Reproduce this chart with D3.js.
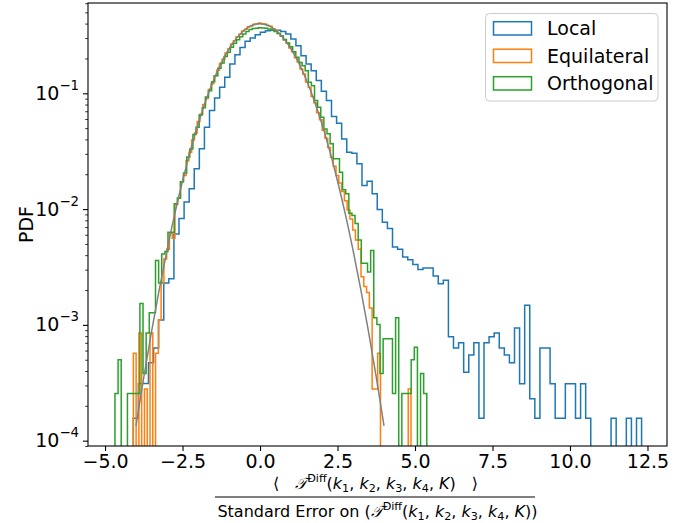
<!DOCTYPE html>
<html><head><meta charset="utf-8">
<script src="https://cdn.jsdelivr.net/npm/d3@7"></script>
<style>
body{margin:0;background:#fff}
text{font-family:"DejaVu Sans",sans-serif}
</style>
</head><body>
<svg id="chart" width="697" height="523"></svg>
<script>
// ---- data ----
const seriesNames = ["Local", "Equilateral", "Orthogonal"];
const seriesColors = ["#1f77b4", "#ff7f0e", "#2ca02c"];

const localStart = -4.09, localWidth = 0.164;
const localValues = [
 0.000156,0.000312,0.000312,0.00047,0.00063,0.0011,0.0023,0.0025,0.0061,0.0083,
 0.0115,0.015,0.0223,0.0332,0.0509,0.071,0.0912,0.113,0.1375,0.179,
 0.215,0.249,0.282,0.30,0.321,0.336,0.347,0.352,0.35,0.342,
 0.325,0.294,0.258,0.211,0.179,0.157,0.129,0.104,0.0865,0.063,
 0.0551,0.0404,0.031,0.0304,0.0246,0.016,0.0174,0.0136,0.0099,0.0077,
 0.0068,0.0047,0.0045,0.00385,0.00366,0.00333,0.00301,0.0031,0.0031,0.00264,
 0.00227,0.00243,0.00079,0.00063,0.0007,0.00039,0.00055,0.0007,0.000156,0.0007,
 0.00079,0.00085,0.00063,0.00055,0.00047,0.00094,0.00031,0.00148,0.00023,0.000156,
 0.00063,0.00063,0.00031,0.000156,0.000156,0.00031,0.00031,0.000156,0.00031,0.000156,
 0,0,0,0,0.000156,0,0,0.000156,0,0.000156
];

const equiStart = -4.087, equiWidth = 0.08958;
const equiValues = [
 0.00057,0,0.00085,0,0.00028,0,0.00085,0,0.00057,0.0011,
 0.0023,0.0037,0.0045,0.0062,0.0056,0.011,0.0125,0.0172,0.0195,0.0262,
 0.031,0.0395,0.0455,0.057,0.066,0.080,0.090,0.108,0.121,0.142,
 0.158,0.181,0.198,0.223,0.241,0.266,0.284,0.308,0.323,0.345,
 0.357,0.375,0.382,0.394,0.399,0.404,0.398,0.396,0.386,0.379,
 0.361,0.349,0.328,0.313,0.289,0.272,0.246,0.228,0.203,0.186,
 0.162,0.147,0.125,0.112,0.094,0.083,0.068,0.059,0.048,0.041,
 0.034,0.028,0.0235,0.0195,0.0168,0.0142,0.0118,0.0098,0.0082,0.0066,
 0.0054,0.0045,0.0026,0.00215,0.0019,0.0014,0.00028,0.00028,0.00057,0,
 0,0,0,0,0,0,0,0,0,0.00028
];

const orthoStart = -4.68, orthoWidth = 0.1006;
const orthoValues = [
 0.000256,0.0005,0,0,0.000256,0.000256,0.000256,0.000256,0.00153,0.00038,
 0.00085,0.00127,0.00127,0.0036,0.0023,0.0041,0.0043,0.0063,0.0063,0.0111,
 0.0125,0.0172,0.0205,0.0282,0.033,0.044,0.051,0.065,0.075,0.093,
 0.105,0.126,0.142,0.165,0.183,0.208,0.226,0.25,0.27,0.29,
 0.308,0.325,0.342,0.355,0.362,0.365,0.368,0.366,0.365,0.36,
 0.352,0.342,0.328,0.312,0.292,0.272,0.252,0.228,0.205,0.185,
 0.173,0.157,0.1245,0.116,0.0865,0.0757,0.0621,0.0493,0.0447,0.0366,
 0.0272,0.0272,0.0208,0.0147,0.0136,0.0092,0.0088,0.0075,0.0054,0.0034,
 0.0034,0.00286,0.0044,0.00115,0.00101,0.00038,0.00076,0.00076,0.00076,0.000256,
 0.00115,0,0.000256,0.000256,0.000256,0.0005,0.00064,0,0.00038,0.000256
];

const gaussX = [-4,-3.75,-3.5,-3.25,-3,-2.75,-2.5,-2.25,-2,-1.75,-1.5,-1.25,-1,-0.75,-0.5,-0.25,0,
  0.25,0.5,0.75,1,1.25,1.5,1.75,2,2.25,2.5,2.75,3,3.25,3.5,3.75,4];
const gaussY = [0.000134,0.000353,0.000873,0.00203,0.00443,0.00909,0.0175,0.0317,0.0540,0.0863,0.1295,0.1826,0.2420,0.3011,0.3521,0.3867,0.3989,
  0.3867,0.3521,0.3011,0.2420,0.1826,0.1295,0.0863,0.0540,0.0317,0.0175,0.00909,0.00443,0.00203,0.000873,0.000353,0.000134];

const xTicks = [-5, -2.5, 0, 2.5, 5, 7.5, 10, 12.5];
const yTicks = [1e-4, 1e-3, 1e-2, 1e-1];
const yTickExp = ["−4", "−3", "−2", "−1"];
const xDomain = [-5.55, 13.13];
const yDomain = [Math.pow(10, -4.046), Math.pow(10, -0.22)];

// ---- layout ----
const L = 88, R = 667, T = 3, B = 446;
const svg = d3.select("#chart");
const x = d3.scaleLinear().domain(xDomain).range([L, R]);
const y = d3.scaleLog().domain(yDomain).range([B, T]);

svg.append("defs").append("clipPath").attr("id", "clip")
  .append("rect").attr("x", L).attr("y", T).attr("width", R - L).attr("height", B - T);

const plot = svg.append("g").attr("clip-path", "url(#clip)");

function yv(v) { return v > 0 ? y(v) : B + 40; }

function stepPoints(start, width, values) {
  const pts = [[x(start), B + 40]];
  values.forEach((v, i) => {
    const x0 = x(start + i * width), x1 = x(start + (i + 1) * width);
    pts.push([x0, yv(v)], [x1, yv(v)]);
  });
  pts.push([x(start + values.length * width), B + 40]);
  return pts;
}

const series = [
  [localStart, localWidth, localValues],
  [equiStart, equiWidth, equiValues],
  [orthoStart, orthoWidth, orthoValues]
];
const line = d3.line();
series.forEach((s, i) => {
  plot.append("path")
    .attr("d", line(stepPoints(s[0], s[1], s[2])))
    .attr("fill", "none")
    .attr("stroke", seriesColors[i])
    .attr("stroke-width", 1.5)
    .attr("stroke-linejoin", "miter");
});

plot.append("path")
  .datum(gaussX.map((d, i) => [d, gaussY[i]]))
  .attr("d", d3.line().x(d => x(d[0])).y(d => y(d[1])).curve(d3.curveCatmullRom))
  .attr("fill", "none").attr("stroke", "#808080").attr("stroke-width", 1.5);

// ---- axes ----
const fs = 19;
const xAxis = svg.append("g").attr("transform", `translate(0,${B})`)
  .call(d3.axisBottom(x).tickValues(xTicks).tickSize(5).tickPadding(4)
    .tickFormat(d => d3.format(".1f")(d)));
xAxis.select(".domain").remove();
xAxis.selectAll("text").attr("font-size", fs).attr("fill", "#000").attr("font-family", "DejaVu Sans");
xAxis.selectAll("line").attr("stroke", "#000").attr("stroke-width", 1.1);

const yAxis = svg.append("g").attr("transform", `translate(${L},0)`)
  .call(d3.axisLeft(y).tickValues(yTicks).tickSize(5).tickPadding(4).tickFormat(""));
yAxis.select(".domain").remove();
yAxis.selectAll("line").attr("stroke", "#000").attr("stroke-width", 1.1);
yAxis.selectAll(".tick").each(function(d, i) {
  const t = d3.select(this).append("text").attr("x", -9).attr("dy", "0.32em")
    .attr("text-anchor", "end").attr("font-size", fs).attr("fill", "#000");
  t.append("tspan").text("10");
  t.append("tspan").attr("font-size", fs * 0.7).attr("dy", "-0.75em").text(yTickExp[i]);
});

const minor = [];
for (let e = -5; e <= 0; e++) for (let m = 2; m <= 9; m++) {
  const v = m * Math.pow(10, e);
  if (v >= yDomain[0] && v <= yDomain[1]) minor.push(v);
}
const yMinor = svg.append("g").attr("transform", `translate(${L},0)`)
  .call(d3.axisLeft(y).tickValues(minor).tickSize(2.8).tickFormat(""));
yMinor.select(".domain").remove();
yMinor.selectAll("line").attr("stroke", "#000").attr("stroke-width", 0.8);

svg.append("rect").attr("x", L).attr("y", T).attr("width", R - L).attr("height", B - T)
  .attr("fill", "none").attr("stroke", "#000").attr("stroke-width", 1.1);

// y label
svg.append("text").attr("transform", `translate(33,${(T + B) / 2}) rotate(-90)`)
  .attr("text-anchor", "middle").attr("font-size", fs).text("PDF");

// x label (fraction)
function mathText(sel, parts, size) {
  let shift = 0;
  parts.forEach(p => {
    const ts = sel.append("tspan");
    let target = 0, fsz = size;
    if (p[1] === "sup") { target = -0.42 * size; fsz = size * 0.7; }
    if (p[1] === "sub") { target = 0.2 * size; fsz = size * 0.7; }
    ts.attr("dy", target - shift).attr("font-size", fsz).text(p[0]);
    if (p[1] === "it") ts.attr("font-style", "italic");
    shift = target;
  });
  if (shift !== 0) sel.append("tspan").attr("dy", -shift).text("\u200b");
}
const lfs = 16;
const cx = (L + R) / 2;
const core = [["𝒯", "it"], ["Diff", "sup"], ["(", "rm"], ["k", "it"], ["1", "sub"], [", ", "rm"],
  ["k", "it"], ["2", "sub"], [", ", "rm"], ["k", "it"], ["3", "sub"], [", ", "rm"],
  ["k", "it"], ["4", "sub"], [", ", "rm"], ["K", "it"], [")", "rm"]];
const num = svg.append("text").attr("x", cx - 2).attr("y", 489).attr("text-anchor", "middle").attr("font-size", lfs);
mathText(num, [["⟨\u2003", "rm"]].concat(core, [["\u2003⟩", "rm"]]), lfs);
const den = svg.append("text").attr("x", cx).attr("y", 517).attr("text-anchor", "middle").attr("font-size", lfs);
mathText(den, [["Standard Error on (", "rm"]].concat(core, [[")", "rm"]]), lfs);
svg.append("line").attr("x1", 215).attr("x2", 535).attr("y1", 497).attr("y2", 497)
  .attr("stroke", "#000").attr("stroke-width", 1.2);

// legend
const lg = svg.append("g");
lg.append("rect").attr("x", 485.5).attr("y", 13.5).attr("width", 172.5).attr("height", 87.5)
  .attr("rx", 4).attr("fill", "#fff").attr("fill-opacity", 0.8).attr("stroke", "#cccccc");
seriesNames.forEach((n, i) => {
  const yy = 21.7 + i * 27.5;
  lg.append("rect").attr("x", 493.5).attr("y", yy).attr("width", 38).attr("height", 13.3)
    .attr("fill", "none").attr("stroke", seriesColors[i]).attr("stroke-width", 1.5);
  lg.append("text").attr("x", 547).attr("y", yy + 13.3).attr("font-size", fs).text(n);
});
</script>
</body></html>
